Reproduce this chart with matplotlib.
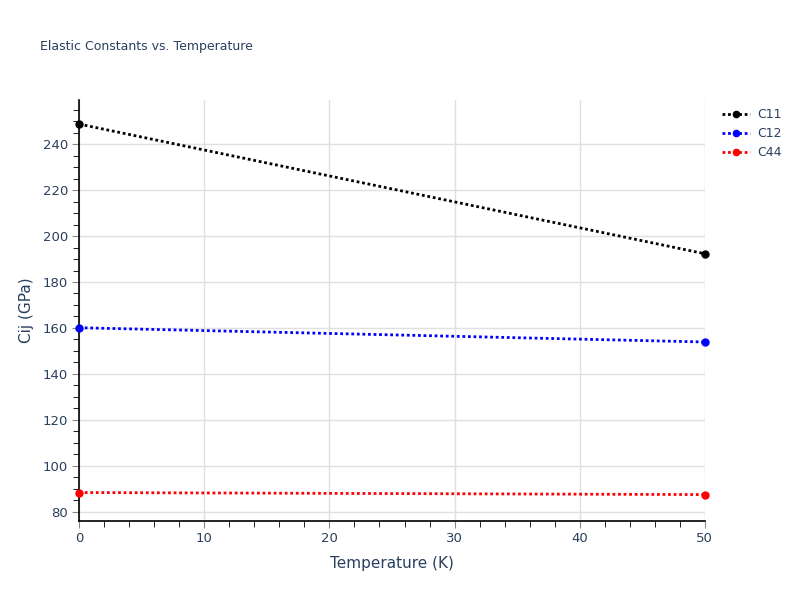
import numpy as np
import matplotlib.pyplot as plt
from matplotlib.ticker import MultipleLocator

temperature = [0, 50]
c11 = [248.7, 192.3]
c12 = [160.1, 153.9]
c44 = [88.4, 87.5]
series_names = ["C11", "C12", "C44"]
series_colors = ["black", "blue", "red"]

txt = "#2a3f5f"
fig = plt.figure(figsize=(8, 6), dpi=100)
ax = fig.add_axes([0.099, 0.132, 0.782, 0.701])

for vals, name, col in zip([c11, c12, c44], series_names, series_colors):
    ax.plot(temperature, vals, color=col, lw=2, ls=(0, (1, 1)), marker="o", ms=5,
            label=name, clip_on=False, zorder=3)

ax.set_xlim(0, 50)
ax.set_ylim(76.1, 259.1)
ax.xaxis.set_major_locator(MultipleLocator(10))
ax.xaxis.set_minor_locator(MultipleLocator(2))
ax.yaxis.set_major_locator(MultipleLocator(20))
ax.yaxis.set_minor_locator(MultipleLocator(5))
ax.grid(True, which="major", color="#e0e0e0", lw=1)
ax.set_axisbelow(True)
for s in ["top", "right"]:
    ax.spines[s].set_visible(False)
for s in ["left", "bottom"]:
    ax.spines[s].set_color("black")
    ax.spines[s].set_linewidth(1.2)
ax.tick_params(which="major", length=5, color="#888888", labelcolor=txt, labelsize=9.5, pad=3)
ax.tick_params(which="minor", length=4, color="black")
ax.set_xlabel("Temperature (K)", color=txt, fontsize=11, labelpad=8)
ax.set_ylabel("Cij (GPa)", color=txt, fontsize=11, labelpad=6)
fig.text(0.05, 0.917, "Elastic Constants vs. Temperature", color=txt, fontsize=9)

leg = ax.legend(loc="upper left", bbox_to_anchor=(1.01, 1.008), frameon=False,
                fontsize=9, handlelength=2.2, handletextpad=0.6, labelspacing=0.48,
                markerscale=0.9)
for t in leg.get_texts():
    t.set_color(txt)

fig.savefig("out.png", dpi=100)
